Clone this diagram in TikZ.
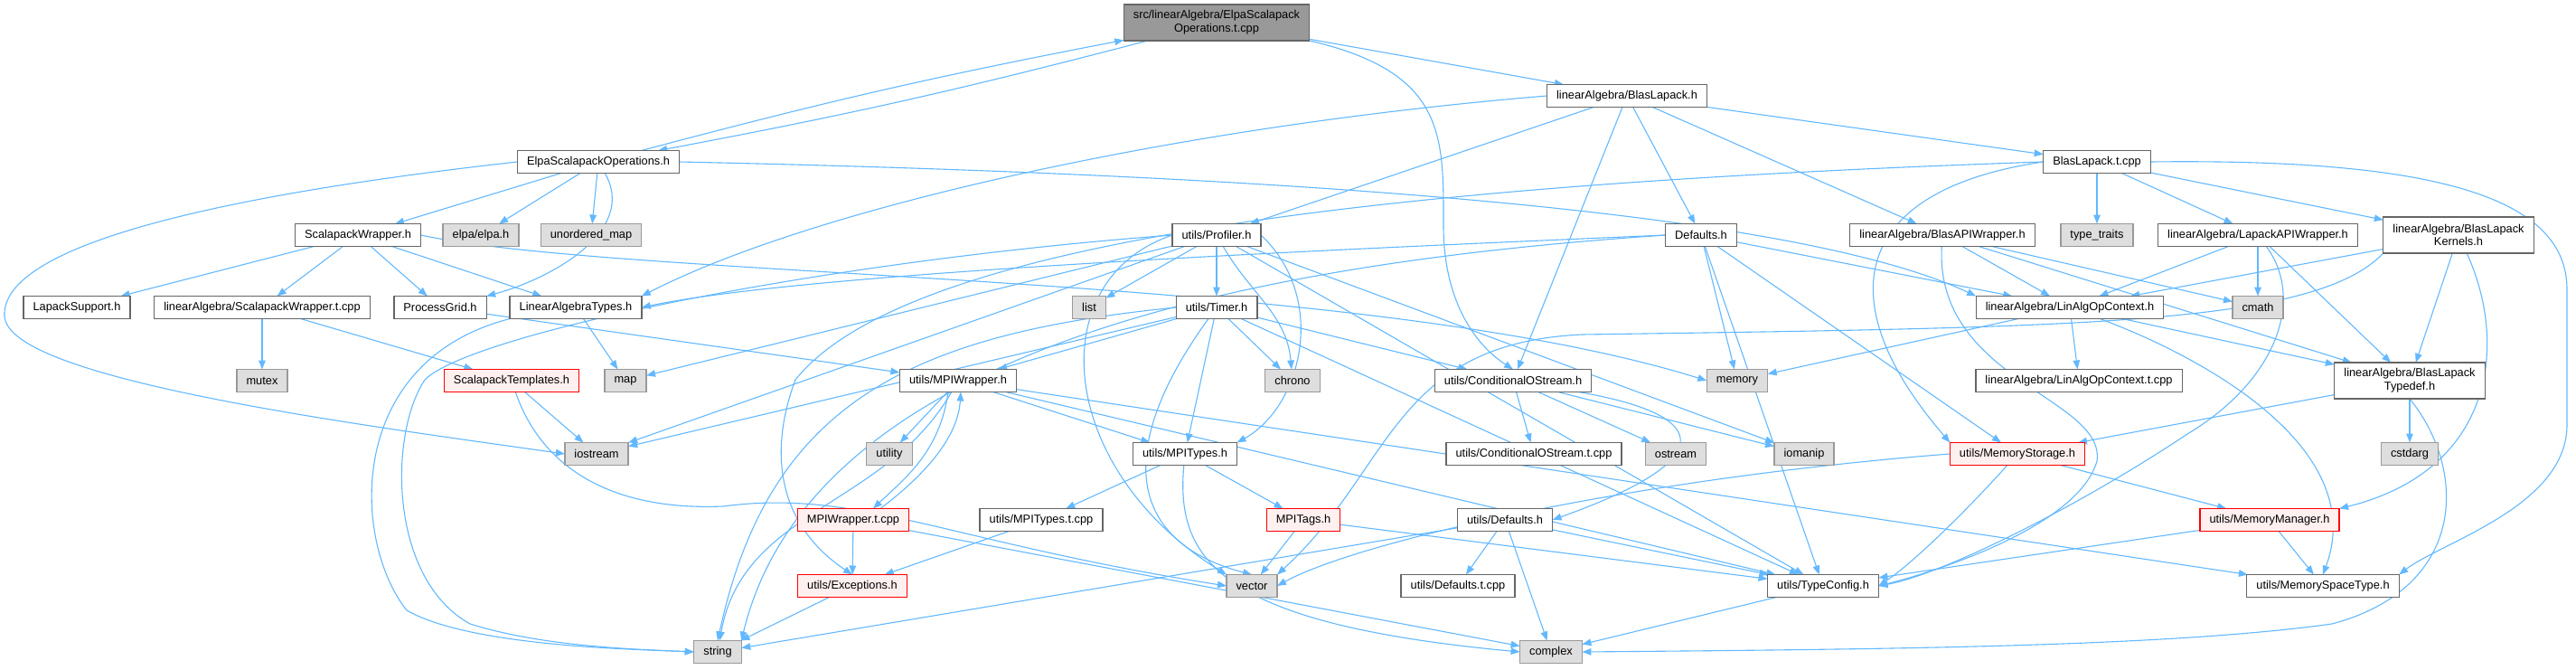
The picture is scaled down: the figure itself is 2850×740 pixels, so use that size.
\documentclass[tikz,border=0pt]{standalone}
\usepackage{fontspec}
\setmainfont{Liberation Sans}
\usetikzlibrary{arrows.meta,backgrounds}
\definecolor{edgeblue}{HTML}{63B8FF}
\definecolor{grey40}{HTML}{666666}
\definecolor{grey60}{HTML}{999999}
\definecolor{grey87}{HTML}{DEDEDE}
\definecolor{pinkbg}{HTML}{FFF0F0}
\tikzset{
	file/.style={draw=grey40, fill=white, line width=0.65pt, font=\fontsize{6.4}{7.4}\selectfont,
		inner xsep=5.3pt, inner ysep=0pt, minimum height=12.5pt, align=center, outer sep=0pt},
	twoline/.style={minimum height=20pt},
	sysfile/.style={file, draw=grey60, fill=grey87},
	errfile/.style={file, draw=red, fill=pinkbg},
	rootfile/.style={file, fill=grey60},
	inc/.style={->, draw=edgeblue, line width=0.55pt}
}
\begin{document}
\begin{tikzpicture}[x=0.5pt, y=-0.5pt, >={Triangle[length=5pt,width=3.8pt]}]
		\useasboundingbox (0,0) rectangle (2850,740);
		\node[rootfile, twoline] (root) at (1346,25) {src/linearAlgebra/ElpaScalapack\\Operations.t.cpp};
		\node[file] (eso) at (662,179) {ElpaScalapackOperations.h};
		\node[file] (bl) at (1800,106) {linearAlgebra/BlasLapack.h};
		\node[file] (blt) at (2320,179) {BlasLapack.t.cpp};
		\node[file] (sw) at (396,260) {ScalapackWrapper.h};
		\node[sysfile] (elpa) at (532,260) {elpa/elpa.h};
		\node[sysfile] (umap) at (654,260) {unordered\_map};
		\node[file] (prof) at (1346,260) {utils/Profiler.h};
		\node[file] (defs) at (1882,260) {Defaults.h};
		\node[file] (bapi) at (2149,260) {linearAlgebra/BlasAPIWrapper.h};
		\node[sysfile] (tt) at (2320,260) {type\_traits};
		\node[file] (lapi) at (2498,260) {linearAlgebra/LapackAPIWrapper.h};
		\node[file, twoline] (blk) at (2720,260) {linearAlgebra/BlasLapack\\Kernels.h};
		\node[file] (lsup) at (85,340) {LapackSupport.h};
		\node[file] (swt) at (290,340) {linearAlgebra/ScalapackWrapper.t.cpp};
		\node[file] (pg) at (487,340) {ProcessGrid.h};
		\node[file] (lat) at (637,340) {LinearAlgebraTypes.h};
		\node[sysfile] (list) at (1205,340) {list};
		\node[file] (timer) at (1346,340) {utils/Timer.h};
		\node[file] (laoc) at (2290,340) {linearAlgebra/LinAlgOpContext.h};
		\node[sysfile] (cmath) at (2498,340) {cmath};
		\node[sysfile] (mutex) at (290,421) {mutex};
		\node[errfile] (stpl) at (566,421) {ScalapackTemplates.h};
		\node[sysfile] (map) at (692,421) {map};
		\node[file] (mpiw) at (1060,421) {utils/MPIWrapper.h};
		\node[sysfile] (chrono) at (1430,421) {chrono};
		\node[file] (cos) at (1674,421) {utils/ConditionalOStream.h};
		\node[sysfile] (memory) at (1922,421) {memory};
		\node[file] (laoct) at (2300,421) {linearAlgebra/LinAlgOpContext.t.cpp};
		\node[file, twoline] (bltd) at (2666,421) {linearAlgebra/BlasLapack\\Typedef.h};
		\node[sysfile] (iostream) at (660,502) {iostream};
		\node[sysfile] (utility) at (984,502) {utility};
		\node[file] (mpit) at (1311,502) {utils/MPITypes.h};
		\node[file] (cost) at (1697,502) {utils/ConditionalOStream.t.cpp};
		\node[sysfile] (ostream) at (1854,502) {ostream};
		\node[sysfile] (iomanip) at (1996,502) {iomanip};
		\node[errfile] (mst) at (2232,502) {utils/MemoryStorage.h};
		\node[sysfile] (cstdarg) at (2666,502) {cstdarg};
		\node[errfile] (mpiwt) at (944,575) {MPIWrapper.t.cpp};
		\node[file] (mpitt) at (1152,575) {utils/MPITypes.t.cpp};
		\node[errfile] (tags) at (1442,575) {MPITags.h};
		\node[file] (udefs) at (1665,575) {utils/Defaults.h};
		\node[errfile] (mmgr) at (2511,575) {utils/MemoryManager.h};
		\node[errfile] (exc) at (943,648) {utils/Exceptions.h};
		\node[sysfile] (vector) at (1385,648) {vector};
		\node[file] (udeft) at (1613,648) {utils/Defaults.t.cpp};
		\node[file] (tcfg) at (2017,648) {utils/TypeConfig.h};
		\node[file] (mspace) at (2570,648) {utils/MemorySpaceType.h};
		\node[sysfile] (string) at (794,721) {string};
		\node[sysfile] (complex) at (1716,721) {complex};
		\begin{pgfonlayer}{background}
		\foreach \a/\b in {root/bl, eso/sw, eso/elpa, eso/umap, bl/prof, bl/cos, bl/defs, bl/bapi, bl/blt,
				blt/tt, blt/lapi, blt/blk, sw/lsup, sw/swt, sw/pg, sw/lat, swt/mutex, swt/stpl, stpl/iostream,
				pg/mpiw, lat/map, prof/list, prof/timer, prof/iostream, prof/map, prof/iomanip, prof/tcfg,
				timer/mpiw, timer/iostream, timer/chrono, timer/mpit, timer/cos, timer/tcfg,
				defs/memory, defs/laoc, defs/mst, defs/tcfg, bapi/laoc, bapi/cmath, bapi/bltd,
				lapi/laoc, lapi/cmath, lapi/bltd, blk/laoc, blk/bltd, laoc/memory, laoc/laoct, laoc/bltd,
				bltd/mst, bltd/cstdarg, mpiw/utility, mpiw/mpit, mpiw/tcfg, mpiw/mspace, mpiwt/exc, mpiwt/complex,
				mpit/mpitt, mpit/tags, mpitt/exc, tags/vector, tags/tcfg, exc/string, cos/cost, cos/ostream,
				cos/iomanip, udefs/string, udefs/udeft, udefs/complex, udefs/tcfg, mst/mmgr, mmgr/tcfg,
				mmgr/mspace, tcfg/complex}
			\draw[inc] (\a) -- (\b);
		\draw[inc] (root) to[bend left=2] (eso);
		\draw[inc] (eso) to[bend left=2] (root);
		\draw[inc] ([xshift=-5.5pt]mpiw.south) .. controls (1040,500) and (1000,530) .. ([xshift=11pt]mpiwt.north);
		\draw[inc] ([xshift=15pt]mpiwt.north) .. controls (1030,520) and (1060,480) .. ([xshift=1.5pt]mpiw.south);
		\draw[inc] (root.south east) .. controls (1600,80) and (1597,150) .. (1597,250)
			.. controls (1597,330) and (1630,380) .. (cos.north);
		\draw[inc] (eso.west) .. controls (250,215) and (0,270) .. (5,350)
			.. controls (10,420) and (400,470) .. (iostream.west);
		\draw[inc] (eso) to[out=-60, in=15] (pg.north east);
		\draw[inc] (eso.east) .. controls (1500,195) and (2000,240) .. (laoc.north west);
		\draw[inc] (sw.east) .. controls (700,310) and (1500,300) .. (memory.west);
		\draw[inc] (bl.west) .. controls (1300,140) and (900,230) .. (lat.north east);
		\draw[inc] (blt.west) .. controls (1500,205) and (1000,270) .. (880,420)
			.. controls (850,500) and (860,580) .. (exc.north);
		\draw[inc] (blt.west) .. controls (2050,210) and (2020,330) .. (mst.north west);
		\draw[inc] (blt.east) .. controls (2700,175) and (2840,220) .. (2840,320) -- (2840,470)
			.. controls (2840,560) and (2700,600) .. (mspace.north east);
		\draw[inc] (lat.south west) .. controls (380,400) and (390,600) .. (450,675)
			.. controls (520,715) and (700,718) .. (string.west);
		\draw[inc] (prof.west) .. controls (900,290) and (520,370) .. (470,420)
			.. controls (430,480) and (430,640) .. (520,690) .. controls (600,715) and (700,718) .. (string.west);
		\draw[inc] (prof) to[out=-60, in=95] (chrono);
		\draw[inc] (prof.west) .. controls (1150,310) and (1170,520) .. (vector.north west);
		\draw[inc] (prof.east) .. controls (1470,330) and (1440,450) .. (mpit.north east);
		\draw[inc] (timer.west) .. controls (1000,370) and (850,450) .. (string.north);
		\draw[inc] (timer) .. controls (1230,500) and (1250,600) .. (vector.north);
		\draw[inc] (mpiw) to[out=-120, in=80] (string);
		\draw[inc] (stpl) .. controls (600,520) and (680,565) .. (800,560)
			.. controls (950,540) and (1050,600) .. (vector.west);
		\draw[inc] (defs.west) .. controls (1500,275) and (900,300) .. (lat.east);
		\draw[inc] (defs.west) .. controls (1400,290) and (900,380) .. (string.north east);
		\draw[inc] (bapi) .. controls (2140,420) and (2330,440) .. (2320,510)
			.. controls (2300,580) and (2150,630) .. (tcfg.east);
		\draw[inc] (lapi) .. controls (2550,330) and (2520,420) .. (2420,480)
			.. controls (2300,560) and (2150,635) .. (tcfg.east);
		\draw[inc] (laoc) .. controls (2450,400) and (2620,500) .. (mspace.north);
		\draw[inc] (blk.south west) .. controls (2560,360) and (2300,362) .. (1750,370)
			.. controls (1540,380) and (1540,520) .. (vector.north east);
		\draw[inc] (blk) .. controls (2775,380) and (2760,520) .. (mmgr.north east);
		\draw[inc] (bltd.south) .. controls (2730,520) and (2730,650) .. (2580,690)
			.. controls (2400,715) and (2100,718) .. (complex.east);
		\draw[inc] (mpit) .. controls (1300,620) and (1350,690) .. (complex.west);
		\draw[inc] (cos) .. controls (1900,460) and (1900,510) .. (udefs.east);
		\draw[inc] (mst.west) .. controls (1800,530) and (1500,600) .. (vector.east);
		\draw[inc] (mst) .. controls (2180,560) and (2120,620) .. (tcfg.east);
		\end{pgfonlayer}
\end{tikzpicture}
\end{document}
